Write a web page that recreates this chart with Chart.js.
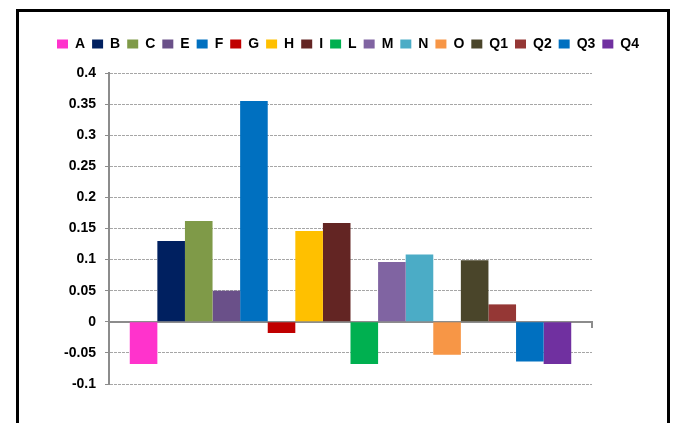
<!DOCTYPE html>
<html>
<head>
<meta charset="utf-8">
<script src="https://cdn.jsdelivr.net/npm/chart.js@4"></script>
<style>
  html, body { margin: 0; padding: 0; background: #fff; }
  body { width: 674px; height: 423px; position: relative; overflow: hidden; }
  #frame {
    position: absolute; left: 16px; top: 9px; width: 654px; height: 500px;
    border: 3px solid #000; box-sizing: border-box;
  }
  #wrap { position: absolute; left: 22px; top: 0; width: 652px; height: 423px; }
</style>
</head>
<body>
<div id="frame"></div>
<div id="wrap"><canvas id="chart"></canvas></div>
<script>
// series shown in the legend, one bar each
const seriesNames = ['A', 'B', 'C', 'E', 'F', 'G', 'H', 'I', 'L', 'M', 'N', 'O', 'Q1', 'Q2', 'Q3', 'Q4'];
const seriesValues = [-0.068, 0.130, 0.162, 0.050, 0.355, -0.018, 0.146, 0.159, -0.068, 0.096, 0.108, -0.053, 0.099, 0.028, -0.064, -0.068];
const seriesColors = ['#ff33cc', '#002060', '#7f9a48', '#6a5089', '#0070c0', '#c00000', '#ffc000', '#632523',
  '#00b050', '#8064a2', '#4bacc6', '#f79646', '#4a452a', '#953735', '#0070c0', '#7030a0'];
const categories = [''];

const axisGray = '#8c8c8c';

// leave a little room between legend and plot
const legendGap = {
  id: 'legendGap',
  beforeInit(chart) {
    const fit = chart.legend.fit;
    chart.legend.fit = function () {
      fit.bind(chart.legend)();
      this.height += 12;
    };
  }
};

const ctx = document.getElementById('chart').getContext('2d');

new Chart(ctx, {
  type: 'bar',
  data: {
    labels: categories,
    datasets: seriesNames.map((name, i) => ({
      label: name,
      data: [seriesValues[i]],
      backgroundColor: seriesColors[i],
      borderWidth: 0
    }))
  },
  options: {
    responsive: true,
    maintainAspectRatio: false,
    animation: false,
    categoryPercentage: 0.914,
    barPercentage: 1,
    layout: { padding: { top: 30, bottom: 39, left: 0, right: 0 } },
    plugins: {
      tooltip: { enabled: false },
      legend: {
        position: 'top',
        labels: {
          boxWidth: 11,
          boxHeight: 9,
          padding: 7,
          color: '#000',
          font: { family: 'Liberation Sans', size: 14, weight: 'bold' }
        }
      }
    },
    scales: {
      x: {
        position: { y: 0 },
        ticks: { display: false },
        grid: { drawOnChartArea: false, color: axisGray, tickLength: 5, lineWidth: 2 },
        border: { color: axisGray, width: 2 }
      },
      y: {
        position: 'left',
        min: -0.1,
        max: 0.4,
        afterFit: (s) => { s.width = 87; },
        ticks: {
          stepSize: 0.05,
          padding: 9,
          color: '#000',
          font: { family: 'Liberation Sans', size: 14, weight: 'bold' },
          callback: (v) => String(Number(v.toFixed(2)))
        },
        grid: { color: '#a6a6a6', tickColor: axisGray, tickLength: 4, lineWidth: 1 },
        border: { color: axisGray, width: 2, dash: [3, 1] }
      },
      yRight: {
        position: 'right',
        min: -0.1,
        max: 0.4,
        afterFit: (s) => { s.width = 82; },
        ticks: { display: false },
        grid: { display: false },
        border: { display: false }
      }
    }
  },
  plugins: [legendGap]
});
</script>
</body>
</html>
